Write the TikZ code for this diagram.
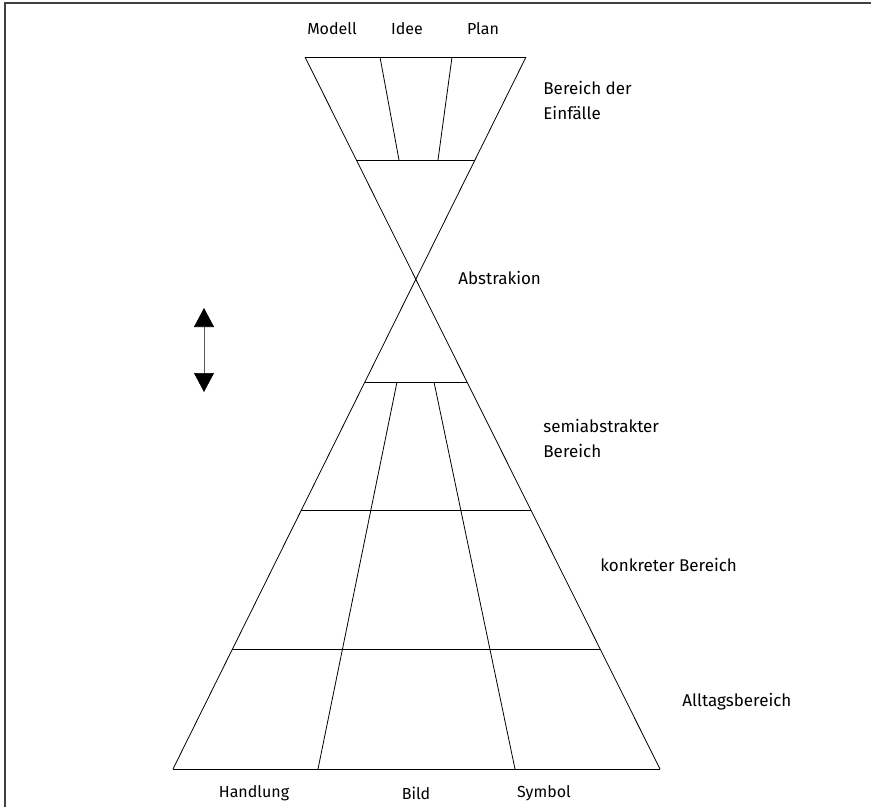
\documentclass[tikz,border=0pt]{standalone}
\usepackage{fontspec}
\setmainfont{Fira Sans}
\usetikzlibrary{arrows.meta,calc}

\begin{document}
\begin{tikzpicture}[x=1pt,y=-1pt,line width=0.8pt,
    area label/.style={font=\fontsize{17}{25}\selectfont,inner sep=0pt,align=left,anchor=west},
    kind label/.style={font=\fontsize{16}{25}\selectfont,inner sep=0pt},
    big tip/.tip={Triangle[width=20pt,length=19pt,color=black,fill=black]}]
    \useasboundingbox (0,0) rectangle (871,807);
    \draw[line width=1.3pt,black!75] (5,807) -- (5,3) -- (871,3);

    \coordinate (top left) at (305,57);
    \coordinate (top right) at (526,57);
    \coordinate (base left) at (173,769);
    \coordinate (base right) at (660,769);
    \draw (top left) -- (base right);
    \draw (top right) -- (base left);
    \draw (top left) -- (top right);
    \draw (base left) -- (base right);
    \foreach \t in {0.1447,0.4565,0.6362,0.8315}
        \draw ($(top left)!\t!(base right)$) -- ($(top right)!\t!(base left)$);

    \coordinate (modell end) at (380,57);
    \coordinate (modell foot) at (399,160);
    \coordinate (plan end) at (452,57);
    \coordinate (plan foot) at (438,160);
    \draw (modell end) -- (modell foot);
    \draw (plan end) -- (plan foot);
    \coordinate (bild left) at (397,382);
    \coordinate (bild left foot) at (318,769);
    \coordinate (bild right) at (434,382);
    \coordinate (bild right foot) at (515,769);
    \draw (bild left) -- (bild left foot);
    \draw (bild right) -- (bild right foot);

    \coordinate (arrow up) at (204,308);
    \coordinate (arrow down) at (204,392);
    \draw[black!65,line width=0.6pt,big tip-big tip] (arrow up) -- (arrow down);

    \node[kind label] (modell) at (332,29) {Modell};
    \node[kind label] (idee) at (407,29) {Idee};
    \node[kind label] (plan) at (483,29) {Plan};
    \node[kind label] (handlung) at (254,793) {Handlung};
    \node[kind label] (bild) at (416,793) {Bild};
    \node[kind label] (symbol) at (544,793) {Symbol};

    \node[area label] (einfaelle) at (543,100) {Bereich der\\Einfälle};
    \node[area label] (abstraktion) at (458,278) {Abstrakion};
    \node[area label] (semi) at (543,438) {semiabstrakter\\Bereich};
    \node[area label] (konkret) at (600,565) {konkreter Bereich};
    \node[area label] (alltag) at (682,702) {Alltagsbereich};
\end{tikzpicture}
\end{document}
